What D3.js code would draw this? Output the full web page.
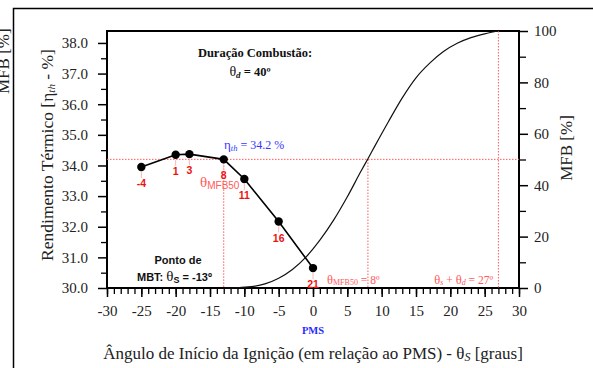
<!DOCTYPE html>
<html lang="pt">
<head>
<meta charset="UTF-8">
<title>Rendimento térmico e MFB</title>
<script src="https://d3js.org/d3.v7.min.js"></script>
<style>
  * { margin: 0; padding: 0; }
  body { background: #fff; }
  svg { display: block; }
  .serif { font-family: "Liberation Serif", "Times New Roman", serif; }
  .sans { font-family: "Liberation Sans", Arial, sans-serif; }
  .axis path, .axis line { stroke: #000; }
</style>
</head>
<body>
<div id="chart"></div>
<script>
  // data
  var sparkAngle = [-25, -20, -18, -13, -10, -5, 0];
  var efficiency = [33.95, 34.35, 34.37, 34.2, 33.56, 32.17, 30.65];
  var mfb50Labels = ['-4', '1', '3', '8', '11', '16', '21'];

  // mass fraction burned curve (MFB %) vs crank angle
  var crankAngle = [-13, -11, -9, -7, -5, -3, -1, 1, 3, 5, 7, 8, 9, 11, 13, 15, 17, 19, 21, 23, 25, 27];
  var mfb = [0, 0.1, 0.5, 1.6, 3.8, 7.2, 12.1, 18.6, 26.4, 35.5, 45.5, 50.3, 55.2, 64.8, 74.0, 81.8, 87.5, 92.0, 95.2, 97.4, 98.9, 100];

  var xTickValues = [-30, -25, -20, -15, -10, -5, 0, 5, 10, 15, 20, 25, 30];
  var leftTickValues = [30, 31, 32, 33, 34, 35, 36, 37, 38];
  var rightTickValues = [0, 20, 40, 60, 80, 100];

  var etaRef = 34.2;
  var mbtAngle = -13;
  var mfb50Angle = 8;
  var endAngle = 27;

  var W = 593, H = 368;
  var pL = 107, pR = 519, pT = 31, pB = 288;
  var serifFont = '"Liberation Serif", "Times New Roman", serif';

  var svg = d3.select('#chart').append('svg')
    .attr('width', W)
    .attr('height', H);

  var x = d3.scaleLinear().domain([-30, 30]).range([pL, pR]);
  var yL = d3.scaleLinear().domain([30, 38.39]).range([pB, pT]);
  var yR = d3.scaleLinear().domain([0, 100]).range([pB, pT]);

  // outer figure frame (cropped)
  svg.append('path')
    .attr('d', 'M13.5,' + H + 'V8.5H' + W)
    .attr('fill', 'none')
    .attr('stroke', '#000')
    .attr('stroke-width', 1.5);

  // piece of the neighbouring figure's label
  svg.append('text')
    .attr('class', 'serif')
    .attr('transform', 'translate(9,94) rotate(-90)')
    .attr('font-size', 17)
    .attr('fill', '#222')
    .text('MFB [%]');

  // minor ticks
  svg.append('g').attr('class', 'axis')
    .attr('transform', 'translate(0,' + pB + ')')
    .call(d3.axisBottom(x).tickValues(d3.range(-30, 31, 1)).tickSize(6).tickFormat(''))
    .call(function (g) { g.select('.domain').remove(); })
    .selectAll('line').attr('stroke-width', 1.3);
  svg.append('g').attr('class', 'axis')
    .attr('transform', 'translate(' + pL + ',0)')
    .call(d3.axisLeft(yL).tickValues(d3.range(30.5, 38, 1)).tickSize(6).tickFormat(''))
    .call(function (g) { g.select('.domain').remove(); })
    .selectAll('line').attr('stroke-width', 1.3);
  svg.append('g').attr('class', 'axis')
    .attr('transform', 'translate(' + pR + ',0)')
    .call(d3.axisRight(yR).tickValues([10, 30, 50, 70, 90]).tickSize(7).tickFormat(''))
    .call(function (g) { g.select('.domain').remove(); })
    .selectAll('line').attr('stroke-width', 1.3);

  // major axes
  function styleAxis(g) {
    g.select('.domain').remove();
    g.selectAll('line').attr('stroke-width', 1.5);
    g.selectAll('text')
      .style('font-family', serifFont)
      .style('font-size', '15px')
      .attr('fill', '#222');
  }

  svg.append('g').attr('class', 'axis')
    .attr('transform', 'translate(0,' + pB + ')')
    .call(d3.axisBottom(x).tickValues(xTickValues).tickSize(9).tickPadding(8)
      .tickFormat(function (d) { return d < 0 ? '-' + Math.abs(d) : d; }))
    .call(styleAxis);

  svg.append('g').attr('class', 'axis')
    .attr('transform', 'translate(' + pL + ',0)')
    .call(d3.axisLeft(yL).tickValues(leftTickValues).tickSize(9).tickPadding(10)
      .tickFormat(d3.format('.1f')))
    .call(styleAxis);

  svg.append('g').attr('class', 'axis')
    .attr('transform', 'translate(' + pR + ',0)')
    .call(d3.axisRight(yR).tickValues(rightTickValues).tickSize(9).tickPadding(6))
    .call(styleAxis);

  // plot frame
  svg.append('rect')
    .attr('x', pL).attr('y', pT)
    .attr('width', pR - pL).attr('height', pB - pT)
    .attr('fill', 'none').attr('stroke', '#000').attr('stroke-width', 2);

  // red dotted reference lines
  var refColor = '#ff5a5a';
  function dotted(x1, y1, x2, y2) {
    svg.append('line')
      .attr('x1', x1).attr('y1', y1).attr('x2', x2).attr('y2', y2)
      .attr('stroke', refColor).attr('stroke-width', 1)
      .attr('stroke-dasharray', '1.5,1.5');
  }
  dotted(pL, yL(etaRef), pR, yL(etaRef));
  dotted(x(mbtAngle), yL(etaRef), x(mbtAngle), pB);
  dotted(x(mfb50Angle), yR(50), x(mfb50Angle), pB);
  dotted(x(endAngle), pT, x(endAngle), pB);

  // MFB curve
  var mfbLine = d3.line()
    .x(function (d, i) { return x(crankAngle[i]); })
    .y(function (d) { return yR(d); })
    .curve(d3.curveMonotoneX);
  svg.append('path')
    .attr('d', mfbLine(mfb))
    .attr('fill', 'none')
    .attr('stroke', '#111')
    .attr('stroke-width', 1.2);

  // efficiency line and points
  var effLine = d3.line()
    .x(function (d, i) { return x(sparkAngle[i]); })
    .y(function (d) { return yL(d); });
  svg.append('path')
    .attr('d', effLine(efficiency))
    .attr('fill', 'none')
    .attr('stroke', '#000')
    .attr('stroke-width', 1.6);

  svg.selectAll('.stub')
    .data(efficiency)
    .enter().append('line')
    .attr('class', 'stub')
    .attr('x1', function (d, i) { return x(sparkAngle[i]); })
    .attr('x2', function (d, i) { return x(sparkAngle[i]); })
    .attr('y1', function (d) { return yL(d) + 5; })
    .attr('y2', function (d) { return yL(d) + 11; })
    .attr('stroke', '#ffb4b4').attr('stroke-width', 1);

  svg.selectAll('.pt')
    .data(efficiency)
    .enter().append('circle')
    .attr('class', 'pt')
    .attr('cx', function (d, i) { return x(sparkAngle[i]); })
    .attr('cy', function (d) { return yL(d); })
    .attr('r', 4.2)
    .attr('fill', '#000');

  svg.selectAll('.lbl')
    .data(efficiency)
    .enter().append('text')
    .attr('class', 'lbl sans')
    .attr('x', function (d, i) { return x(sparkAngle[i]); })
    .attr('y', function (d) { return yL(d) + 20; })
    .attr('text-anchor', 'middle')
    .attr('font-size', 10.5)
    .attr('font-weight', 'bold')
    .attr('fill', '#ee1111')
    .text(function (d, i) { return mfb50Labels[i]; });

  // annotations
  svg.append('text').attr('class', 'serif')
    .attr('x', 255).attr('y', 57).attr('text-anchor', 'middle')
    .attr('font-size', 12.5).attr('font-weight', 'bold').attr('fill', '#111')
    .text('Duração Combustão:');

  var t2 = svg.append('text').attr('class', 'serif')
    .attr('x', 250).attr('y', 76).attr('text-anchor', 'middle')
    .attr('font-size', 12.5).attr('fill', '#111');
  t2.append('tspan').attr('font-size', 14).text('θ');
  t2.append('tspan').attr('font-size', 9).attr('font-style', 'italic').attr('font-weight', 'bold').attr('dy', 2).text('d');
  t2.append('tspan').attr('font-weight', 'bold').attr('dy', -2).text(' = 40º');

  var t3 = svg.append('text').attr('class', 'serif')
    .attr('x', 224).attr('y', 149).attr('font-size', 12).attr('fill', '#3838ff');
  t3.append('tspan').attr('font-size', 13).text('η');
  t3.append('tspan').attr('font-size', 8.5).attr('font-style', 'italic').attr('dy', 2).text('th');
  t3.append('tspan').attr('dy', -2).text(' = 34.2 %');

  var t4 = svg.append('text').attr('x', 200).attr('y', 187).attr('fill', refColor);
  t4.append('tspan').attr('class', 'serif').attr('font-size', 15).text('θ');
  t4.append('tspan').attr('class', 'sans').attr('font-size', 10).attr('dy', 2).text('MFB50');

  svg.append('text').attr('class', 'sans')
    .attr('x', 178).attr('y', 264).attr('text-anchor', 'middle')
    .attr('font-size', 11).attr('font-weight', 'bold').attr('fill', '#111')
    .text('Ponto de');
  var t5 = svg.append('text').attr('class', 'sans')
    .attr('x', 137).attr('y', 281)
    .attr('font-size', 11).attr('font-weight', 'bold').attr('fill', '#111');
  t5.append('tspan').text('MBT:  ');
  t5.append('tspan').attr('class', 'serif').attr('font-weight', 'normal').attr('font-size', 15).text('θ');
  t5.append('tspan').attr('font-size', 9).attr('dy', 2).text('S');
  t5.append('tspan').attr('dy', -2).text(' = -13º');

  var t6 = svg.append('text').attr('class', 'serif')
    .attr('x', 327).attr('y', 284).attr('font-size', 11.5).attr('fill', refColor);
  t6.append('tspan').attr('font-size', 12.5).text('θ');
  t6.append('tspan').attr('font-size', 8).attr('dy', 1).text('MFB50');
  t6.append('tspan').attr('dy', -1).text(' = 8º');

  var t7 = svg.append('text').attr('class', 'serif')
    .attr('x', 493).attr('y', 284).attr('text-anchor', 'end').attr('font-size', 11.5).attr('fill', refColor);
  t7.append('tspan').attr('font-size', 12.5).text('θ');
  t7.append('tspan').attr('font-size', 8).attr('font-style', 'italic').attr('dy', 1).text('s');
  t7.append('tspan').attr('dy', -1).text(' + ');
  t7.append('tspan').attr('font-size', 12.5).text('θ');
  t7.append('tspan').attr('font-size', 8).attr('font-style', 'italic').attr('dy', 1).text('d');
  t7.append('tspan').attr('dy', -1).text(' = 27º');

  svg.append('text').attr('class', 'serif')
    .attr('x', x(0)).attr('y', 334).attr('text-anchor', 'middle')
    .attr('font-size', 10.5).attr('font-weight', 'bold').attr('fill', '#2a2aff')
    .text('PMS');

  // axis titles
  var xt = svg.append('text').attr('class', 'serif')
    .attr('x', x(0)).attr('y', 359).attr('text-anchor', 'middle')
    .attr('font-size', 17).attr('fill', '#222');
  xt.append('tspan').text('Ângulo de Início da Ignição (em relação ao PMS) - θ');
  xt.append('tspan').attr('font-size', 12).attr('font-style', 'italic').attr('dy', 2).text('S');
  xt.append('tspan').attr('dy', -2).text(' [graus]');

  var lt = svg.append('text').attr('class', 'serif')
    .attr('transform', 'translate(53,' + 155 + ') rotate(-90)')
    .attr('text-anchor', 'middle').attr('font-size', 17.5).attr('fill', '#222');
  lt.append('tspan').text('Rendimento Térmico [η');
  lt.append('tspan').attr('font-size', 11).attr('font-style', 'italic').attr('dy', 2).text('th');
  lt.append('tspan').attr('dy', -2).text(' - %]');

  svg.append('text').attr('class', 'serif')
    .attr('transform', 'translate(572,' + 148 + ') rotate(-90)')
    .attr('text-anchor', 'middle').attr('font-size', 17).attr('fill', '#222')
    .text('MFB [%]');
</script>
</body>
</html>
